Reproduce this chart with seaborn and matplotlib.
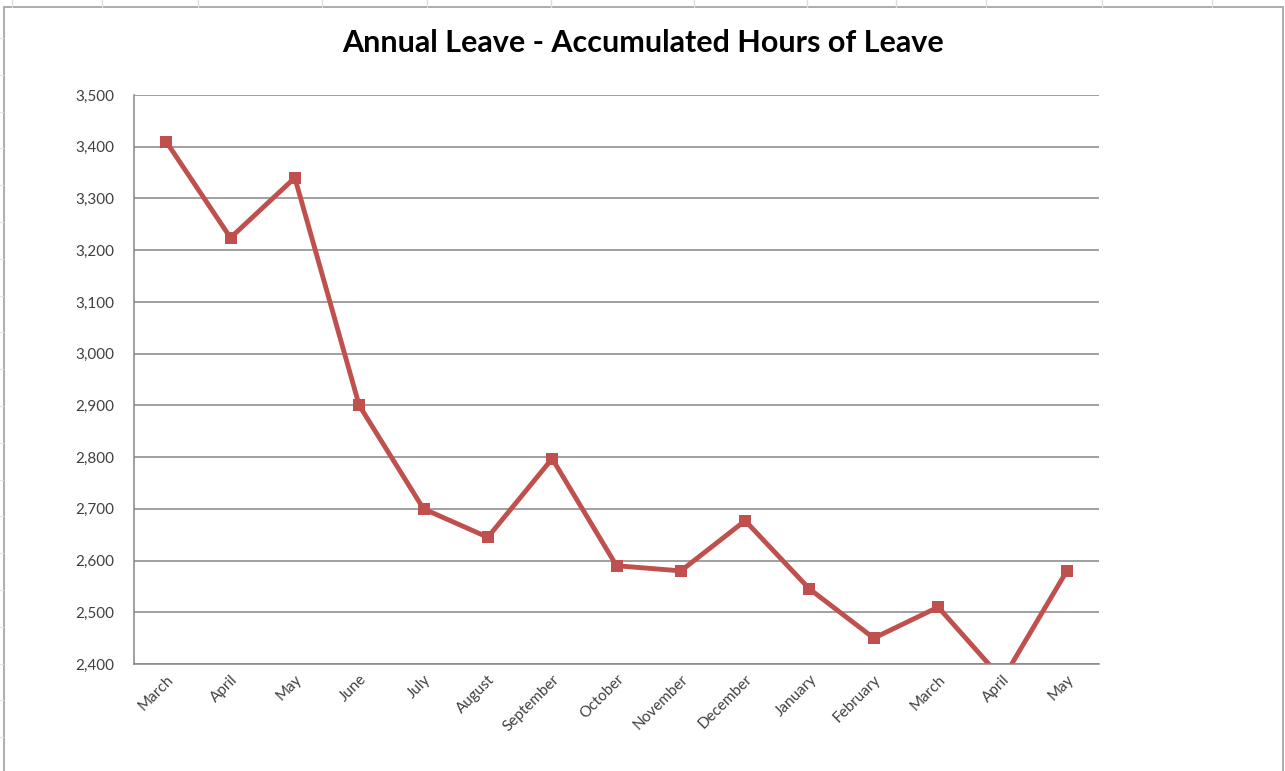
import numpy as np
import pandas as pd
import matplotlib
matplotlib.use("Agg")
import matplotlib.pyplot as plt
from matplotlib.lines import Line2D
from matplotlib.patches import Rectangle
from matplotlib.ticker import FixedLocator, FuncFormatter
import seaborn as sns

# Monthly accumulated annual leave (hours)
months = ["March", "April", "May", "June", "July", "August", "September",
          "October", "November", "December", "January", "February",
          "March", "April", "May"]
hours = [3410, 3224, 3340, 2900, 2700, 2645, 2797, 2590, 2580, 2677,
         2545, 2450, 2510, 2370, 2580]
y_ticks = [2400, 2500, 2600, 2700, 2800, 2900, 3000, 3100, 3200, 3300, 3400, 3500]
title = "Annual Leave - Accumulated Hours of Leave"

sns.set_style("white")
plt.rcParams["font.family"] = ["Lato", "DejaVu Sans"]

W, H = 1285, 771
fig = plt.figure(figsize=(W / 100, H / 100), dpi=100)
fig.patch.set_facecolor("white")

# spreadsheet cell marks behind the chart object
for x in [12, 102, 198, 322, 427, 551, 694, 807, 896, 986, 1102, 1212]:
    fig.add_artist(Line2D([x / W, x / W], [1, 1 - 7 / H], color="#dedede", lw=1,
                          transform=fig.transFigure))
for k in range(21):
    y = 38 + 36.8 * k
    if y > H:
        break
    fig.add_artist(Line2D([0, 3 / W], [1 - y / H, 1 - y / H], color="#e4e4e4", lw=1,
                          transform=fig.transFigure))

# chart object frame
fig.add_artist(Rectangle((4 / W, -0.01), (1283 - 4) / W, 1 - 7 / H + 0.01,
                         transform=fig.transFigure, fill=False,
                         edgecolor="#a6a6a6", lw=1.3))

ax = fig.add_axes([134 / W, 1 - 664 / H, (1099 - 134) / W, (664 - 95) / H])

df = pd.DataFrame({"pos": np.arange(len(months)), "hours": hours})
sns.lineplot(data=df, x="pos", y="hours", ax=ax, color="#C0504D", lw=3.5,
             marker="s", markersize=9, markeredgewidth=0, markerfacecolor="#C0504D")

ax.set_xlim(-0.5, len(months) - 0.5)
ax.set_ylim(y_ticks[0], y_ticks[-1])

grid_c = "#868686"
ax.yaxis.set_major_locator(FixedLocator(y_ticks))
ax.yaxis.set_major_formatter(FuncFormatter(lambda v, p: f"{int(v):,}"))
ax.grid(axis="y", color=grid_c, lw=1.1)
ax.set_axisbelow(True)

# category boundaries carry tick marks; labels sit between them
ax.xaxis.set_major_locator(FixedLocator(np.arange(len(months) + 1) - 0.5))
ax.xaxis.set_major_formatter(FuncFormatter(lambda v, p: ""))
ax.xaxis.set_minor_locator(FixedLocator(np.arange(len(months))))
ax.set_xticks(np.arange(len(months)), months, minor=True)
ax.tick_params(axis="x", which="major", length=6, width=1.1, color=grid_c, direction="out")
ax.tick_params(axis="x", which="minor", length=0, labelsize=11, labelcolor="#404040", pad=6)
for lab in ax.get_xticklabels(minor=True):
    lab.set_rotation(45)
    lab.set_ha("right")
    lab.set_va("top")
    lab.set_rotation_mode("anchor")
ax.tick_params(axis="y", length=6, width=1.1, color=grid_c, labelsize=11,
               labelcolor="#404040", pad=8, direction="out")

for s in ["top", "right"]:
    ax.spines[s].set_visible(False)
for s in ["left", "bottom"]:
    ax.spines[s].set_color(grid_c)
    ax.spines[s].set_linewidth(1.1)

ax.set_xlabel("")
ax.set_ylabel("")

fig.text(643 / W, 1 - 43 / H, title, ha="center", va="center",
         fontsize=22, fontweight="bold", color="black")

fig.savefig("out.png", dpi=100, facecolor="white")
